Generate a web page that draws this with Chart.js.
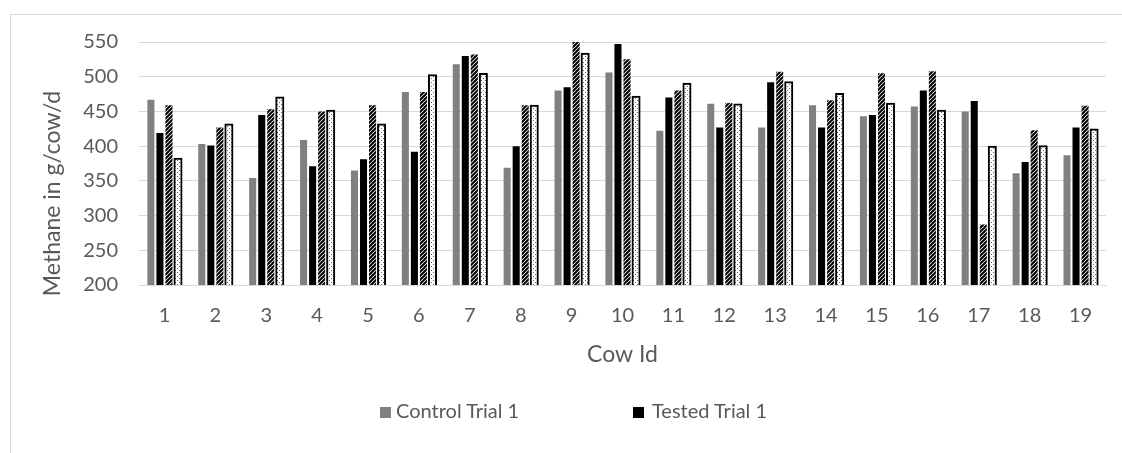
<!DOCTYPE html>
<html>
<head>
<meta charset="utf-8">
<script src="https://cdn.jsdelivr.net/npm/chart.js@4.4.1/dist/chart.umd.min.js"></script>
<style>
  html, body { margin: 0; padding: 0; background: #fff; }
  #wrap { position: relative; width: 1122px; height: 453px; overflow: hidden; font-family: Lato, "Open Sans", sans-serif; }
  #frame { position: absolute; left: 10px; top: 14px; width: 1300px; height: 700px; border: 1px solid #d9d9d9; box-sizing: border-box; }
  #chart { position: absolute; left: 0; top: 0; }
  .lg-box { position: absolute; width: 11px; height: 11px; top: 407px; }
  .lg-text { position: absolute; top: 400px; font-size: 20px; line-height: 20px; color: #595959; white-space: nowrap; }
</style>
</head>
<body>
<div id="wrap">
  <div id="frame"></div>
  <canvas id="chart" width="1122" height="453"></canvas>
  <div id="legend"></div>
</div>
<script>
// Cow identifiers along the x axis
const cows = ['1','2','3','4','5','6','7','8','9','10','11','12','13','14','15','16','17','18','19'];

// Methane output per cow (g/cow/d)
const controlTrial1 = [467, 403, 354, 409, 365, 478, 518, 369, 480, 506, 422, 461, 427, 459, 443, 457, 450, 361, 387];
const testedTrial1  = [419, 401, 445, 371, 381, 392, 530, 400, 485, 547, 470, 427, 492, 427, 445, 480, 465, 377, 427];
const controlTrial2 = [459, 427, 453, 450, 459, 478, 532, 459, 550, 525, 480, 462, 507, 466, 505, 508, 287, 423, 458];
const testedTrial2  = [382, 431, 470, 451, 431, 502, 504, 458, 533, 471, 490, 460, 492, 475, 461, 451, 399, 400, 424];

// Y axis ticks
const yTicks = [200, 250, 300, 350, 400, 450, 500, 550];
const yTitle = 'Methane in g/cow/d';

// Fill patterns for the second trial series
function hatchPattern() {
  const c = document.createElement('canvas');
  c.width = 4; c.height = 4;
  const g = c.getContext('2d');
  g.fillStyle = '#fff';
  g.fillRect(0, 0, 4, 4);
  g.strokeStyle = '#000';
  g.lineWidth = 2;
  g.beginPath();
  g.moveTo(0, 4); g.lineTo(4, 0);
  g.moveTo(-1, 1); g.lineTo(1, -1);
  g.moveTo(3, 5); g.lineTo(5, 3);
  g.stroke();
  return g.createPattern(c, 'repeat');
}
function dotPattern() {
  const c = document.createElement('canvas');
  c.width = 4; c.height = 4;
  const g = c.getContext('2d');
  g.fillStyle = '#fff';
  g.fillRect(0, 0, 4, 4);
  g.fillStyle = '#666';
  g.fillRect(1, 0, 1, 1);
  g.fillRect(3, 2, 1, 1);
  return g.createPattern(c, 'repeat');
}

const textGray = '#595959';
const gridGray = '#d9d9d9';

const datasets = [
  { label: 'Control Trial 1', data: controlTrial1, backgroundColor: '#808080', showInLegend: true },
  { label: 'Tested Trial 1', data: testedTrial1, backgroundColor: '#000000', showInLegend: true },
  { label: 'Control Trial 2', data: controlTrial2, backgroundColor: hatchPattern() },
  { label: 'Tested Trial 2', data: testedTrial2, backgroundColor: dotPattern(), borderColor: '#000',
    borderWidth: 2, borderSkipped: false, inflateAmount: 1 }
];

// Y axis title, placed a little below the middle of the axis
const yTitlePlugin = {
  id: 'yTitle',
  afterDraw(chart) {
    const { ctx, chartArea } = chart;
    ctx.save();
    ctx.translate(53, (chartArea.top + chartArea.bottom) / 2 + 30);
    ctx.rotate(-Math.PI / 2);
    ctx.font = '23px Lato';
    ctx.fillStyle = textGray;
    ctx.textAlign = 'center';
    ctx.textBaseline = 'middle';
    ctx.fillText(yTitle, 0, 0);
    ctx.restore();
  }
};

const chart = new Chart(document.getElementById('chart'), {
  type: 'bar',
  data: { labels: cows, datasets: datasets },
  plugins: [yTitlePlugin],
  options: {
    responsive: false,
    animation: false,
    devicePixelRatio: 1,
    layout: { padding: { top: 42, right: 16, bottom: 0, left: 0 } },
    datasets: { bar: { categoryPercentage: 0.71, barPercentage: 0.78 } },
    plugins: { legend: { display: false }, tooltip: { enabled: false } },
    scales: {
      x: {
        grid: { display: false, drawTicks: false },
        border: { display: true, color: gridGray },
        ticks: { color: textGray, font: { family: 'Lato', size: 20 }, padding: 19 },
        title: { display: true, text: 'Cow Id', color: textGray, font: { family: 'Lato', size: 23 }, padding: { top: 0, bottom: 85 } },
        afterFit(scale) { scale.height = 168; }
      },
      y: {
        min: yTicks[0],
        max: yTicks[yTicks.length - 1],
        afterBuildTicks(scale) { scale.ticks = yTicks.map(v => ({ value: v })); },
        grid: { color: gridGray, drawTicks: false },
        border: { display: false },
        ticks: { color: textGray, font: { family: 'Lato', size: 20 }, padding: 21 },
        afterFit(scale) { scale.width = 139; }
      }
    }
  }
});

// Legend for the first-trial series, laid out below the axis title
const legendPos = [{ box: 380, text: 396 }, { box: 633, text: 652 }];
const legendEl = document.getElementById('legend');
datasets.filter(d => d.showInLegend).forEach((d, i) => {
  const box = document.createElement('div');
  box.className = 'lg-box';
  box.style.left = legendPos[i].box + 'px';
  box.style.background = d.backgroundColor;
  const txt = document.createElement('div');
  txt.className = 'lg-text';
  txt.style.left = legendPos[i].text + 'px';
  txt.textContent = d.label;
  legendEl.appendChild(box);
  legendEl.appendChild(txt);
});
</script>
</body>
</html>
